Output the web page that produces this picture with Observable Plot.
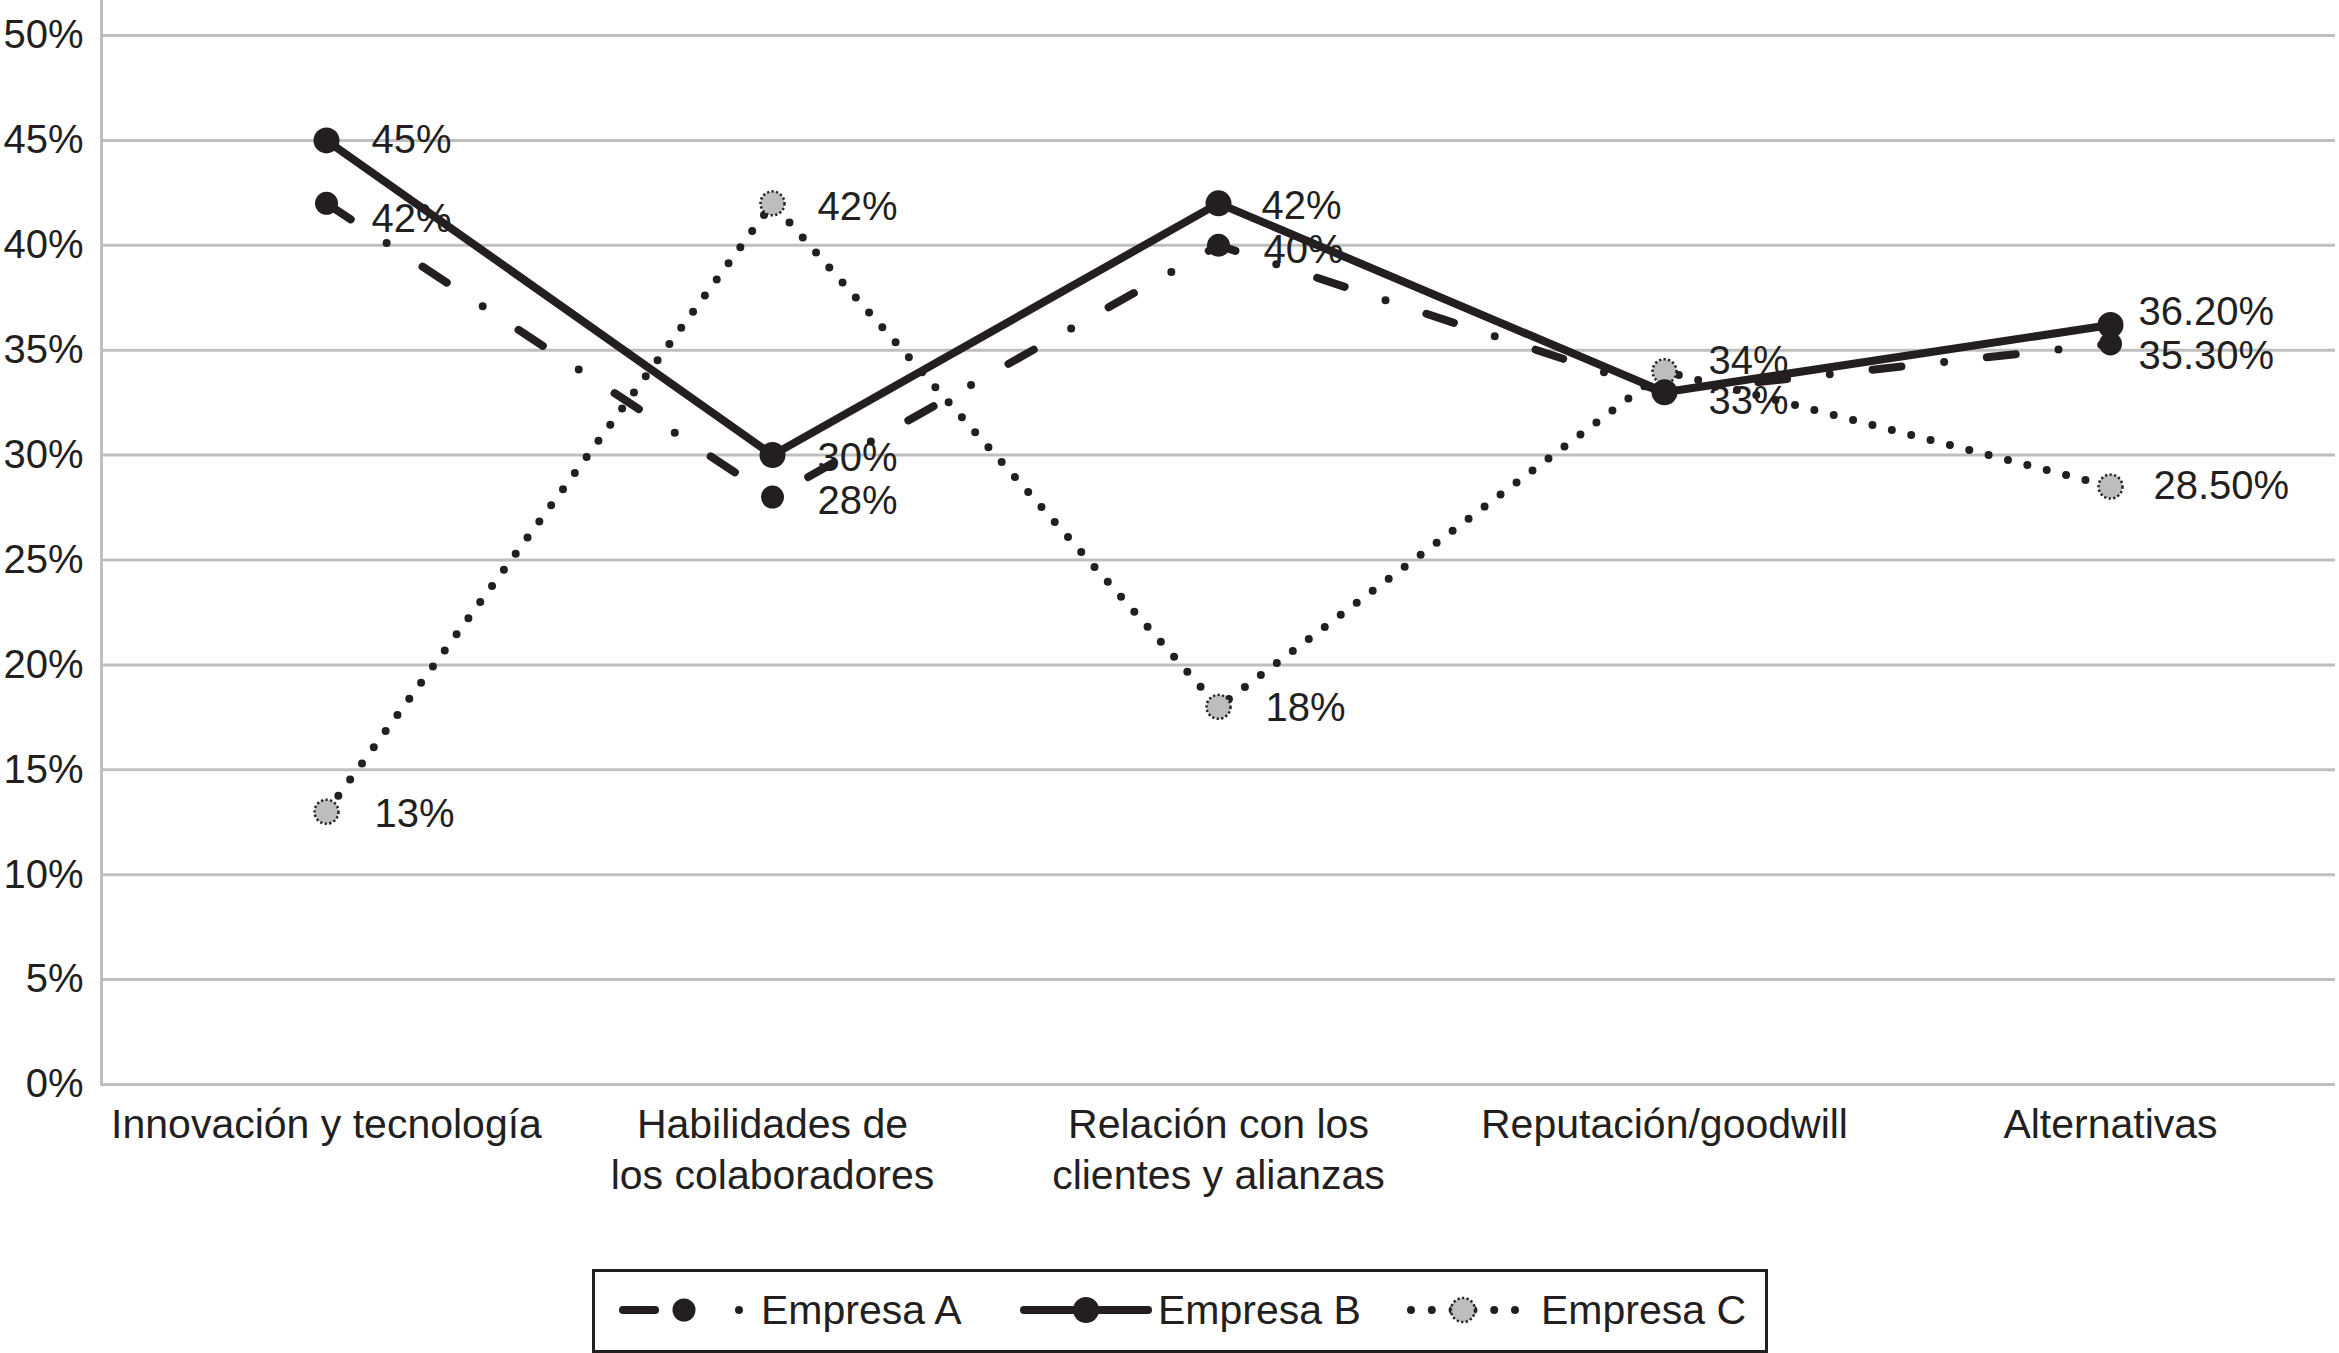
<!DOCTYPE html>
<html>
<head>
<meta charset="utf-8">
<script src="https://cdn.jsdelivr.net/npm/d3@7"></script>
<script src="https://cdn.jsdelivr.net/npm/@observablehq/plot@0.6"></script>
<style>
html, body { margin: 0; padding: 0; background: #fff; }
#wrap { position: relative; width: 2339px; height: 1353px; overflow: hidden;
  font-family: "Liberation Sans", Arial, Helvetica, sans-serif; color: #231f20; }
#chart { position: absolute; left: 0; top: 0; }
#legend { position: absolute; left: 592px; top: 1269px; width: 1176px; height: 84px;
  box-sizing: border-box; border: 3px solid #231f20; background: #fff; }
.item { position: absolute; top: 0; height: 76px; display: flex; align-items: center; }
.item span { font-size: 41px; line-height: 1; white-space: nowrap; }
</style>
</head>
<body>
<div id="wrap">
  <div id="chart"></div>
  <div id="legend"></div>
</div>
<script>
// ---- data ----
const categories = [
  "Innovación y tecnología",
  "Habilidades de los colaboradores",
  "Relación con los clientes y alianzas",
  "Reputación/goodwill",
  "Alternativas"
];
const tickLabels = [
  "Innovación y tecnología",
  "Habilidades de\nlos colaboradores",
  "Relación con los\nclientes y alianzas",
  "Reputación/goodwill",
  "Alternativas"
];
const seriesNames = ["Empresa A", "Empresa B", "Empresa C"];
const empresaA = [0.42, 0.28, 0.40, 0.33, 0.353];
const empresaB = [0.45, 0.30, 0.42, 0.33, 0.362];
const empresaC = [0.13, 0.42, 0.18, 0.34, 0.285];
const yTicks = [0, 0.05, 0.10, 0.15, 0.20, 0.25, 0.30, 0.35, 0.40, 0.45, 0.50];

// ---- styling ----
const ink = "#231f20";
const gridColor = "#bfbfbf";
const fontFamily = '"Liberation Sans", Arial, Helvetica, sans-serif';
const seriesStyle = {
  "Empresa A": {strokeWidth: 8, dash: "29 43 0 43", r: 11.5, fill: ink, stroke: "none", dotStrokeWidth: 0, dotDash: null},
  "Empresa B": {strokeWidth: 8, dash: null, r: 13, fill: ink, stroke: "none", dotStrokeWidth: 0, dotDash: null},
  "Empresa C": {strokeWidth: 8, dash: "0 20", r: 12, fill: "#bdbdbd", stroke: ink, dotStrokeWidth: 2.5, dotDash: "2.2 2.4"}
};
// label offsets [dx, dy] per series|category index
const labelOffset = {
  "Empresa A|0": [45, 16], "Empresa B|0": [45, 0], "Empresa C|0": [48, 2],
  "Empresa A|1": [45, 4],  "Empresa B|1": [45, 3], "Empresa C|1": [45, 4],
  "Empresa A|2": [45, 5],  "Empresa B|2": [43, 3], "Empresa C|2": [47, 1],
  "Empresa A|3": [44, 9],  "Empresa B|3": [44, 9], "Empresa C|3": [44, -10],
  "Empresa A|4": [28, 12], "Empresa B|4": [28, -13], "Empresa C|4": [43, 0]
};

const valuesBySeries = {"Empresa A": empresaA, "Empresa B": empresaB, "Empresa C": empresaC};
const rows = [];
seriesNames.forEach(s => valuesBySeries[s].forEach((v, i) => rows.push({series: s, category: categories[i], idx: i, value: v})));

const fmt = v => {
  const p = Math.round(v * 1000) / 10;
  return Number.isInteger(p) ? p + "%" : p.toFixed(2) + "%";
};

// label marks (identical labels at the same spot are drawn once)
const seen = new Set();
const labelMarks = [];
rows.forEach(d => {
  const key = d.idx + "|" + d.value;
  if (seen.has(key)) return;
  seen.add(key);
  const [dx, dy] = labelOffset[d.series + "|" + d.idx];
  labelMarks.push(Plot.text([d], {
    x: "category", y: "value", text: d => fmt(d.value),
    dx, dy, textAnchor: "start", fontSize: 40, fill: ink
  }));
});

const lineOrder = ["Empresa C", "Empresa A", "Empresa B"];
const lineMarks = lineOrder.map(s => {
  const st = seriesStyle[s];
  return Plot.line(rows.filter(d => d.series === s), {
    x: "category", y: "value", stroke: ink, strokeWidth: st.strokeWidth,
    strokeDasharray: st.dash, strokeLinecap: "round", strokeLinejoin: "round"
  });
});
const dotMarks = lineOrder.map(s => {
  const st = seriesStyle[s];
  return Plot.dot(rows.filter(d => d.series === s), {
    x: "category", y: "value", r: st.r, fill: st.fill, stroke: st.stroke,
    strokeWidth: st.dotStrokeWidth, strokeDasharray: st.dotDash
  });
});

const W = 2339, H = 1240;
const chart = Plot.plot({
  width: W, height: H,
  marginLeft: 101, marginRight: 4, marginTop: 0, marginBottom: H - 1084,
  style: {fontFamily, fontSize: "41px", color: ink, background: "transparent"},
  x: {type: "point", domain: categories, padding: 0.5, label: null},
  y: {domain: [0, 0.5167], label: null},
  marks: [
    Plot.gridY(yTicks, {stroke: gridColor, strokeOpacity: 1, strokeWidth: 3}),
    Plot.frame({anchor: "left", stroke: gridColor, strokeWidth: 3}),
    Plot.axisY({ticks: yTicks, tickFormat: d => Math.round(d * 100) + "%", tickSize: 0, tickPadding: 18, fontSize: 40, fill: ink}),
    Plot.axisX({tickFormat: d => tickLabels[categories.indexOf(d)], tickSize: 0, tickPadding: 17, fontSize: 41, lineHeight: 1.25, fill: ink}),
    ...labelMarks,
    ...lineMarks,
    ...dotMarks
  ]
});
document.getElementById("chart").appendChild(chart);

// ---- legend ----
const legend = d3.select("#legend");
const legendItems = [
  {name: "Empresa A", left: 20, swW: 140, line: [8, 134], marker: 69, dash: "32 84 0 200"},
  {name: "Empresa B", left: 425, swW: 132, line: [4, 128], marker: 66, dash: null},
  {name: "Empresa C", left: 808, swW: 132, line: [8, 112], marker: 60, dash: "0 20.8"}
];
legendItems.forEach(it => {
  const st = seriesStyle[it.name];
  const div = legend.append("div").attr("class", "item").style("left", it.left + "px");
  const svg = div.append("svg").attr("width", it.swW).attr("height", 40).style("margin-right", "6px");
  svg.append("line").attr("x1", it.line[0]).attr("x2", it.line[1]).attr("y1", 20).attr("y2", 20)
    .attr("stroke", ink).attr("stroke-width", st.strokeWidth).attr("stroke-linecap", "round")
    .attr("stroke-dasharray", it.dash);
  svg.append("circle").attr("cx", it.marker).attr("cy", 20).attr("r", st.r)
    .attr("fill", st.fill).attr("stroke", st.stroke).attr("stroke-width", st.dotStrokeWidth)
    .attr("stroke-dasharray", st.dotDash);
  div.append("span").text(it.name);
});
</script>
</body>
</html>
